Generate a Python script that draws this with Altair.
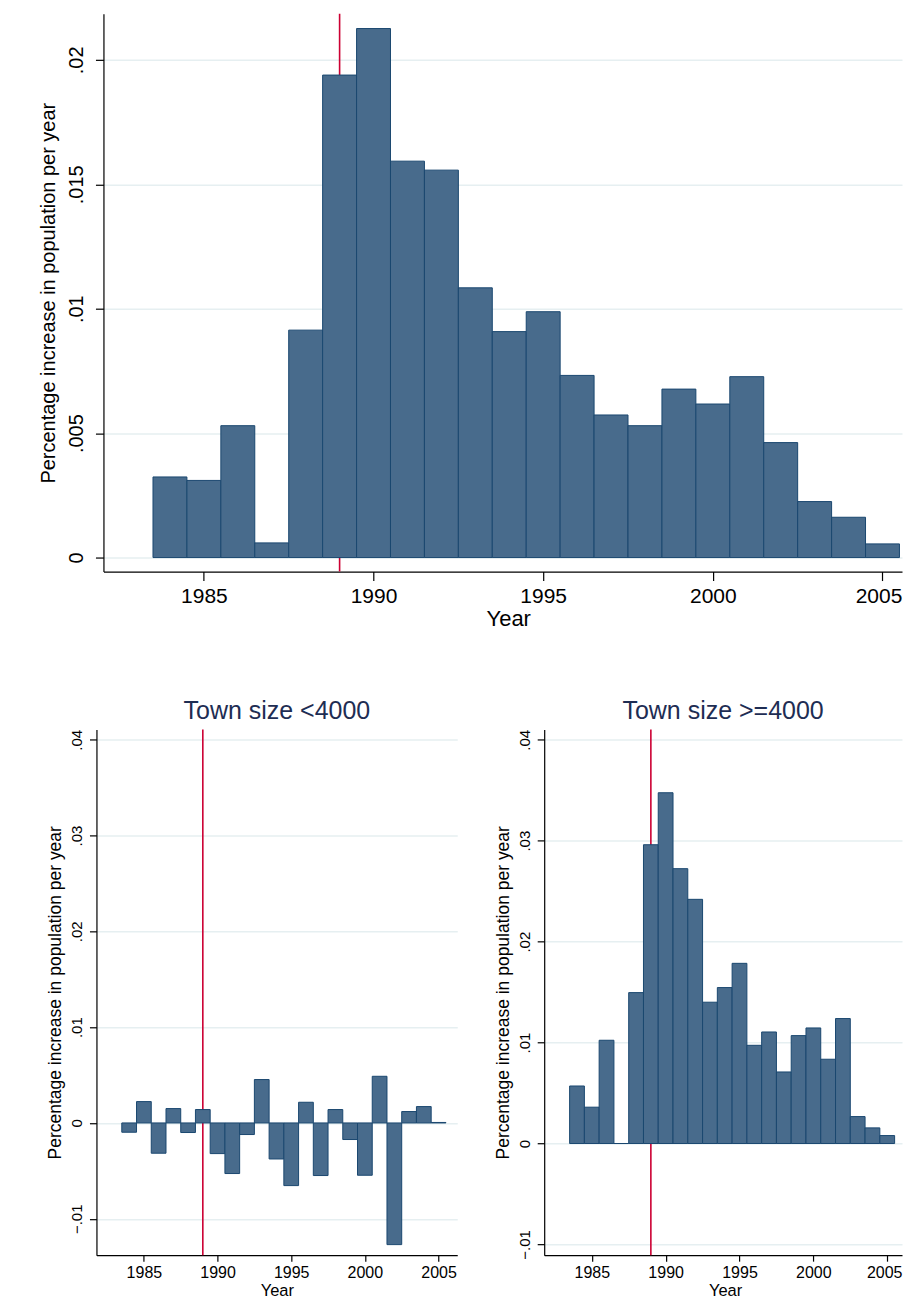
import altair as alt
import pandas as pd

# ---------------- data ----------------
years = list(range(1984, 2006))
all_towns = [0.00324, 0.00310, 0.00530, 0.00059, 0.00914, 0.01939, 0.02126,
             0.01593, 0.01557, 0.01084, 0.00908, 0.00988, 0.00732, 0.00573,
             0.00530, 0.00677, 0.00617, 0.00727, 0.00462, 0.00225, 0.00162,
             0.00055]
small_towns = [-0.00097, 0.00223, -0.00316, 0.00150, -0.00100, 0.00140,
               -0.00320, -0.00528, -0.00121, 0.00453, -0.00376, -0.00654,
               0.00216, -0.00549, 0.00140, -0.00173, -0.00546, 0.00487,
               -0.01270, 0.00119, 0.00171, 0.00005]
large_towns = [0.00570, 0.00360, 0.01023, 0.00000, 0.01495, 0.02960, 0.03475,
               0.02723, 0.02419, 0.01400, 0.01545, 0.01785, 0.00973, 0.01105,
               0.00709, 0.01069, 0.01145, 0.00835, 0.01238, 0.00267, 0.00155,
               0.00079]
event_year = [1989]

year_ticks = [1985, 1990, 1995, 2000, 2005]
top_y_ticks = [0, 0.005, 0.01, 0.015, 0.02]
bottom_y_ticks = [-0.01, 0, 0.01, 0.02, 0.03, 0.04]

Y_TITLE = "Percentage increase in population per year"
X_TITLE = "Year"
TITLE_SMALL = "Town size <4000"
TITLE_LARGE = "Town size >=4000"

# ---------------- style ----------------
FONT = "Liberation Sans"
BAR_FILL = "#486b8c"
BAR_STROKE = "#1a476f"
GRID = "#e6eff1"
RED = "#cc0033"
TITLE_COLOR = "#1e2d53"
LABEL_EXPR = "datum.value == 0 ? '0' : replace(format(datum.value, '.3~f'), '0.', '.')"


def panel(values, x_domain, y_domain, y_ticks, width, height, s, title=None):
    df = pd.DataFrame({"year": years, "value": values})
    df["start"] = df["year"] - 0.5
    df["end"] = df["year"] + 0.5
    xscale = alt.Scale(domain=x_domain, nice=False, zero=False)
    yscale = alt.Scale(domain=y_domain, nice=False, zero=False)
    if s["last_shift"]:
        label_offset = {"condition": {"test": "datum.value == 2005",
                                      "value": s["last_shift"]},
                        "value": 0}
    else:
        label_offset = 0
    x_axis = alt.Axis(
        values=year_ticks, format="d", grid=False, labelAngle=0,
        tickSize=s["xtick"], labelPadding=s["xpad"], labelFontSize=s["xlab"],
        labelFont=FONT, labelColor="black", labelFlush=False, labelOverlap=False,
        labelOffset=label_offset,
        title=X_TITLE, titleFont=FONT, titleFontSize=s["xtitle"],
        titleFontWeight="normal", titleColor="black",
        titleX=s["xtitleX"], titleY=s["xtitleY"], titleBaseline="top",
        titleAlign="center", domainColor="black", domainWidth=1.2,
        tickColor="black", tickWidth=1.2)
    y_axis = alt.Axis(
        values=y_ticks, labelExpr=LABEL_EXPR, grid=True, gridColor=GRID,
        gridWidth=1.5, labelAngle=270, labelAlign="center",
        labelBaseline="bottom", tickSize=s["ytick"], labelPadding=s["ypad"],
        labelFontSize=s["ylab"], labelFont=FONT, labelColor="black",
        labelFlush=False, labelOverlap=False,
        title=Y_TITLE, titleFont=FONT, titleFontSize=s["ytitle"],
        titleFontWeight="normal", titleColor="black", titleAngle=270,
        titleX=s["ytitleX"], titleY=height / 2, titleBaseline="middle",
        titleAlign="center", domainColor="black", domainWidth=1.2,
        tickColor="black", tickWidth=1.2)
    rule = alt.Chart(pd.DataFrame({"year": event_year})).mark_rule(
        color=RED, strokeWidth=1.6
    ).encode(x=alt.X("year:Q", scale=xscale, axis=x_axis))
    bars = alt.Chart(df).mark_bar(
        fill=BAR_FILL, stroke=BAR_STROKE, strokeWidth=1, opacity=1
    ).encode(
        x=alt.X("start:Q", scale=xscale, axis=x_axis),
        x2="end:Q",
        y=alt.Y("value:Q", scale=yscale, axis=y_axis),
        y2=alt.datum(0),
    )
    props = dict(width=width, height=height)
    if title is not None:
        props["title"] = alt.TitleParams(
            text=title, font=FONT, fontSize=25, fontWeight="normal",
            color=TITLE_COLOR, baseline="alphabetic", offset=-15,
            anchor="middle", frame="group")
    return alt.layer(rule, bars).properties(**props)


top_style = dict(xtick=9, xpad=5, xlab=21, xtitle=22, xtitleX=405,
                 xtitleY=37.4, last_shift=-4,
                 ytick=8, ypad=8.5, ylab=20, ytitle=20, ytitleX=-55.2)
bl_style = dict(xtick=6, xpad=3, xlab=16, xtitle=16.5, xtitleX=180.5,
                xtitleY=27.3, last_shift=0, ytick=7, ypad=5, ylab=15,
                ytitle=17.5, ytitleX=-41)
br_style = dict(bl_style, xtitleX=181, last_shift=-3)

top = panel(all_towns, [1982.04, 2005.575], [-0.000562, 0.02185],
            top_y_ticks, 799, 558, top_style)
left = panel(small_towns, [1981.78, 2006.27], [-0.0138, 0.04107],
             bottom_y_ticks, 361, 526, bl_style, TITLE_SMALL)
right = panel(large_towns, [1981.78, 2006.0], [-0.01106, 0.04102],
              bottom_y_ticks, 358, 526, br_style, TITLE_LARGE)

# invisible 7px spacer that shifts the top panel right of the bottom-left one
spacer = alt.Chart(pd.DataFrame({"a": [0]})).mark_rect(
    opacity=0, strokeWidth=0
).encode(
    x=alt.value(0), x2=alt.value(7), y=alt.value(0), y2=alt.value(1)
).properties(width=7, height=558)

top_row = alt.hconcat(spacer, top, spacing=0, bounds="flush")
bottom_row = alt.hconcat(left, right, spacing=87, bounds="flush")

chart = alt.vconcat(top_row, bottom_row, spacing=716, bounds="flush").properties(
    padding={"left": 29.5, "top": 4.5, "right": 0, "bottom": 0}
).configure_view(stroke=None)

chart.save("out.html", embed_options={"renderer": "svg", "actions": False})
